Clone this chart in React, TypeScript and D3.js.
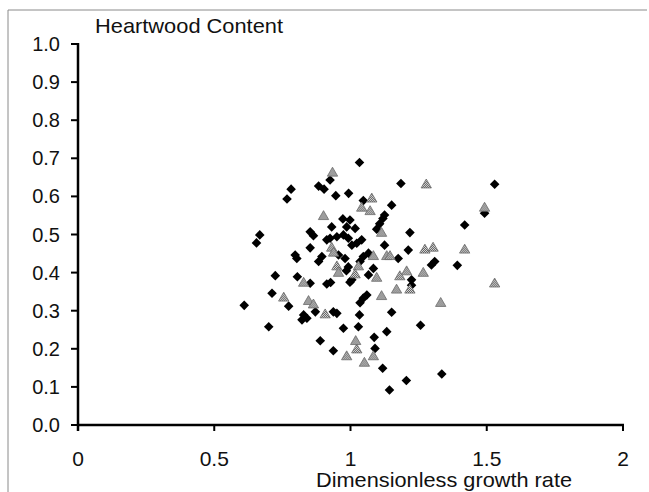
import React from "react";
import * as d3 from "d3";

const xTicks = [0, 0.5, 1, 1.5, 2];
const xTickLabels = ["0", "0.5", "1", "1.5", "2"];
const yTicks = [0, 0.1, 0.2, 0.3, 0.4, 0.5, 0.6, 0.7, 0.8, 0.9, 1.0];
const yTickLabels = ["0.0", "0.1", "0.2", "0.3", "0.4", "0.5", "0.6", "0.7", "0.8", "0.9", "1.0"];

// black diamonds
const diamondX = [
  0.610, 0.700, 0.655, 0.667, 0.712, 0.724, 0.773, 0.767, 0.782, 0.797,
  0.803, 0.805, 0.852, 0.864, 0.852, 0.852, 0.828, 0.822, 0.840, 0.871,
  0.883, 0.895, 0.883, 0.903, 0.889, 0.925, 0.946, 0.931, 0.913, 0.927,
  0.937, 0.937, 0.950, 0.974, 0.993, 0.972, 0.998, 0.986, 1.017, 0.950,
  0.974, 0.925, 0.913, 0.992, 1.005, 1.023, 1.041, 0.956, 0.980, 0.992,
  0.985, 1.005, 0.998, 1.033, 1.047, 1.047, 1.066, 1.035, 1.084, 1.066,
  1.047, 1.035, 1.060, 1.033, 1.029, 1.087, 1.090, 1.118, 1.133, 1.096,
  1.107, 1.119, 1.125, 1.125, 1.151, 1.151, 1.143, 1.175, 1.185, 1.212,
  1.218, 1.224, 1.224, 1.205, 1.257, 1.297, 1.309, 1.335, 1.392, 1.419,
  1.492, 1.529
];
const diamondY = [
  0.314, 0.258, 0.478, 0.499, 0.346, 0.392, 0.312, 0.593, 0.619, 0.446,
  0.437, 0.389, 0.507, 0.497, 0.465, 0.372, 0.289, 0.276, 0.280, 0.297,
  0.429, 0.442, 0.627, 0.619, 0.221, 0.643, 0.602, 0.520, 0.370, 0.374,
  0.195, 0.297, 0.293, 0.254, 0.608, 0.541, 0.538, 0.520, 0.516, 0.494,
  0.499, 0.490, 0.486, 0.490, 0.472, 0.477, 0.486, 0.446, 0.437, 0.415,
  0.405, 0.381, 0.375, 0.689, 0.589, 0.442, 0.451, 0.429, 0.411, 0.394,
  0.333, 0.321, 0.341, 0.289, 0.258, 0.230, 0.201, 0.149, 0.245, 0.514,
  0.528, 0.542, 0.551, 0.472, 0.577, 0.296, 0.092, 0.437, 0.634, 0.459,
  0.505, 0.381, 0.367, 0.117, 0.262, 0.420, 0.429, 0.134, 0.419, 0.525,
  0.556, 0.632
];

// grey triangles
const triangleX = [
  0.755, 0.828, 0.846, 0.864, 0.907, 0.934, 0.901, 0.931, 0.938, 0.950,
  0.956, 1.029, 1.017, 1.078, 1.041, 1.072, 1.114, 1.084, 1.133, 1.145,
  1.096, 1.114, 1.019, 1.023, 0.986, 1.084, 1.051, 1.181, 1.206, 1.169,
  1.218, 1.267, 1.273, 1.303, 1.278, 1.331, 1.419, 1.492, 1.529
];
const triangleY = [
  0.333, 0.372, 0.324, 0.315, 0.289, 0.661, 0.547, 0.464, 0.451, 0.415,
  0.398, 0.415, 0.394, 0.593, 0.569, 0.560, 0.503, 0.442, 0.442, 0.442,
  0.385, 0.337, 0.219, 0.197, 0.179, 0.179, 0.162, 0.389, 0.402, 0.354,
  0.354, 0.398, 0.459, 0.464, 0.630, 0.319, 0.459, 0.569, 0.370
];

const FONT = "'Liberation Sans', Arial, Helvetica, sans-serif";

export default function App() {
  const width = 649;
  const height = 492;
  const x = d3.scaleLinear().domain([0, 2]).range([78, 623]);
  const y = d3.scaleLinear().domain([0, 1]).range([425, 44]);

  const diamondPath = d3.symbol().type(d3.symbolSquare).size(46)() as string;
  const trianglePath = d3.symbol().type(d3.symbolTriangle).size(46)() as string;

  const diamonds = diamondX.map((v, i) => ({ x: v, y: diamondY[i] }));
  const triangles = triangleX.map((v, i) => ({ x: v, y: triangleY[i] }));

  return (
    <svg
      width={width}
      height={height}
      style={{ position: "absolute", left: 0, top: 0, background: "#fff" }}
      fontFamily={FONT}
    >
      <defs>
        <pattern id="dither" width="2" height="2" patternUnits="userSpaceOnUse">
          <rect width="2" height="2" fill="#ffffff" />
          <rect width="1" height="1" fill="#3a3a3a" />
          <rect x="1" y="1" width="1" height="1" fill="#3a3a3a" />
        </pattern>
      </defs>
      <rect x={0} y={0} width={width} height={height} fill="#fff" />
      {/* frame */}
      <line x1={8} y1={10} x2={647} y2={10} stroke="#8a8a8a" strokeWidth={1} />
      <line x1={8} y1={10} x2={8} y2={492} stroke="#8a8a8a" strokeWidth={1} />

      {/* title */}
      <text x={95} y={33} fontSize={21} fill="#111" textLength={188} lengthAdjust="spacingAndGlyphs">
        Heartwood Content
      </text>

      {/* y axis */}
      <line x1={x(0)} y1={y(1) - 1} x2={x(0)} y2={y(0) + 6} stroke="#000" strokeWidth={2.5} />
      {yTicks.map((t, i) => (
        <g key={"yt" + i}>
          <line x1={x(0) - 7} x2={x(0)} y1={y(t)} y2={y(t)} stroke="#000" strokeWidth={2} />
          <text
            x={60}
            y={y(t)}
            textAnchor="end"
            dominantBaseline="central"
            fontSize={20}
            fill="#111"
          >
            {yTickLabels[i]}
          </text>
        </g>
      ))}

      {/* x axis */}
      <line x1={x(0)} y1={y(0)} x2={x(2) + 1} y2={y(0)} stroke="#000" strokeWidth={2.5} />
      {xTicks.map((t, i) => (
        <g key={"xt" + i}>
          <line x1={x(t)} x2={x(t)} y1={y(0)} y2={y(0) + 6} stroke="#000" strokeWidth={2} />
          <text x={x(t)} y={466} textAnchor="middle" fontSize={21} fill="#111">
            {xTickLabels[i]}
          </text>
        </g>
      ))}
      <text x={316} y={487} fontSize={21} fill="#111" textLength={256} lengthAdjust="spacingAndGlyphs">
        Dimensionless growth rate
      </text>

      {/* diamonds */}
      {diamonds.map((d, i) => (
        <path
          key={"d" + i}
          d={diamondPath}
          transform={`translate(${x(d.x)},${y(d.y)}) rotate(45)`}
          fill="#000"
        />
      ))}
      {/* triangles */}
      {triangles.map((d, i) => (
        <path
          key={"t" + i}
          d={trianglePath}
          transform={`translate(${x(d.x)},${y(d.y)})`}
          fill="url(#dither)"
          stroke="#6a6a6a"
          strokeWidth={0.8}
        />
      ))}
    </svg>
  );
}
